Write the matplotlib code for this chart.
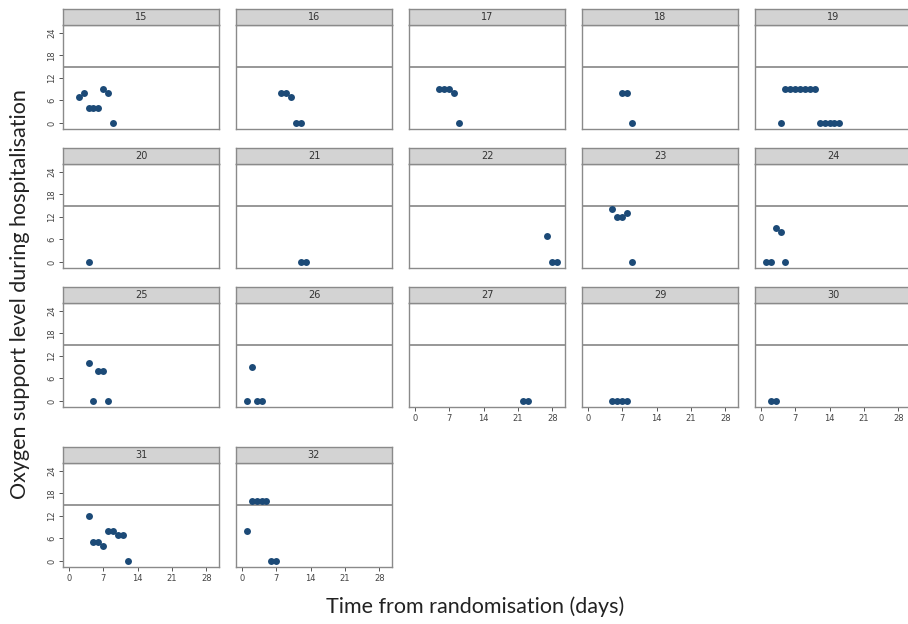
import matplotlib.pyplot as plt

# Constants
W, H = 908, 624
DOT = "#1c4a77"
FRAME = "#8a8a8a"
STRIP = "#d3d3d3"
TICK_TXT = "#444444"

# data: one list of days / levels per patient panel
panel_ids = [15, 16, 17, 18, 19, 20, 21, 22, 23, 24, 25, 26, 27, 29, 30, 31, 32]
days = [
    [2, 3, 4, 5, 6, 7, 8, 9],
    [8, 9, 10, 11, 12],
    [5, 6, 7, 8, 9],
    [7, 8, 9],
    [4, 5, 6, 7, 8, 9, 10, 11, 12, 13, 14, 15, 16],
    [4],
    [12, 13],
    [27, 28, 29],
    [5, 6, 7, 8, 9],
    [1, 2, 3, 4, 5],
    [4, 5, 6, 7, 8],
    [1, 2, 3, 4],
    [22, 23],
    [5, 6, 7, 8],
    [2, 3],
    [4, 5, 6, 7, 8, 9, 10, 11, 12],
    [1, 2, 3, 4, 5, 6, 7],
]
levels = [
    [7, 8, 4, 4, 4, 9, 8, 0],
    [8, 8, 7, 0, 0],
    [9, 9, 9, 8, 0],
    [8, 8, 0],
    [0, 9, 9, 9, 9, 9, 9, 9, 0, 0, 0, 0, 0],
    [0],
    [0, 0],
    [7, 0, 0],
    [14, 12, 12, 13, 0],
    [0, 0, 9, 8, 0],
    [10, 0, 8, 8, 0],
    [0, 9, 0, 0],
    [0, 0],
    [0, 0, 0, 0],
    [0, 0],
    [12, 5, 5, 4, 8, 8, 7, 7, 0],
    [8, 16, 16, 16, 16, 0, 0],
]
threshold = 15
x_ticks = [0, 7, 14, 21, 28]
y_ticks = [0, 6, 12, 18, 24]

# layout in pixels (top edge of axes area, per row)
col_left = [63, 236, 409, 582, 755]
row_top = [25, 164, 303, 463]
ax_w, ax_h, strip_h = 156, 104, 16
n_cols = 5

fig = plt.figure(figsize=(W / 100, H / 100), dpi=100)

for i, pid in enumerate(panel_ids):
    r, c = divmod(i, n_cols)
    left = col_left[c] / W
    bottom = (H - row_top[r] - ax_h) / H
    ax = fig.add_axes([left, bottom, ax_w / W, ax_h / H])

    ax.axhline(threshold, color="#7a7a7a", linewidth=1.1, zorder=1)
    ax.plot(days[i], levels[i], "o", color=DOT, markersize=5,
            markeredgewidth=0, zorder=3)

    ax.set_xlim(-1.2, 30.6)
    ax.set_ylim(-1.6, 26.1)
    for s in ax.spines.values():
        s.set_color(FRAME)
        s.set_linewidth(1.0)

    # y ticks only on first column, x ticks only where no panel sits below
    if c == 0:
        ax.set_yticks(y_ticks)
        ax.set_yticklabels([str(v) for v in y_ticks], rotation=90, va="center",
                           fontsize=6, color=TICK_TXT)
    else:
        ax.set_yticks([])
    has_below = i + n_cols < len(panel_ids)
    if not has_below:
        ax.set_xticks(x_ticks)
        ax.set_xticklabels([str(v) for v in x_ticks], fontsize=6, color=TICK_TXT)
    else:
        ax.set_xticks([])
    ax.tick_params(length=3, width=0.7, color="#555555", pad=2)

    # grey title strip
    sax = fig.add_axes([left, (H - row_top[r]) / H, ax_w / W, strip_h / H])
    sax.set_facecolor(STRIP)
    sax.set_xticks([])
    sax.set_yticks([])
    for s in sax.spines.values():
        s.set_color(FRAME)
        s.set_linewidth(1.0)
    sax.text(0.5, 0.5, str(pid), ha="center", va="center", fontsize=7,
             color="#333333", transform=sax.transAxes)

fig.text(475 / W, 1 - 607 / H, "Time from randomisation (days)", ha="center",
         va="center", fontsize=15.5, family="Lato", color="#222222")
fig.text(20 / W, 1 - 294 / H, "Oxygen support level during hospitalisation",
         ha="center", va="center", rotation=90, fontsize=15.5, family="Lato",
         color="#222222")

fig.savefig("out.png", dpi=100)
